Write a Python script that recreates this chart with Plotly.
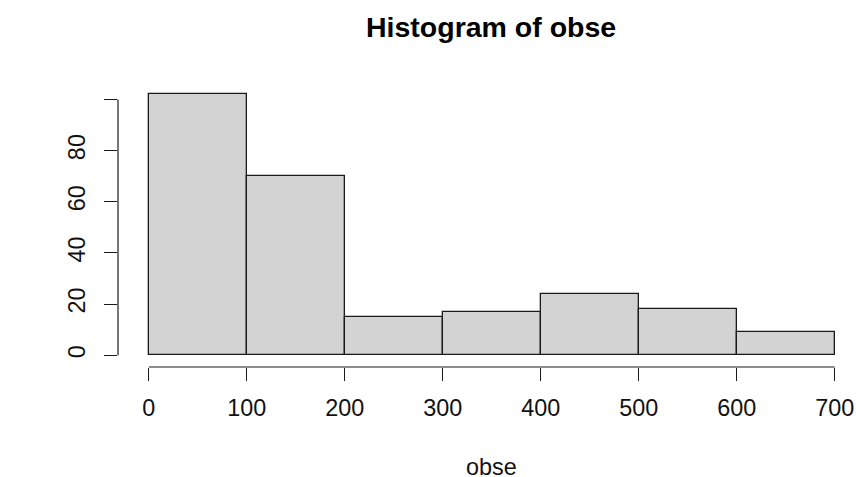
import plotly.graph_objects as go

# Histogram bins of obse (width 100) and their counts
bin_edges = [0, 100, 200, 300, 400, 500, 600, 700]
counts = [102, 70, 15, 17, 24, 18, 9]
x_ticks = [0, 100, 200, 300, 400, 500, 600, 700]
y_ticks = [0, 20, 40, 60, 80, 100]
y_tick_text = ["0", "20", "40", "60", "80", ""]

mids = [(a + b) / 2 for a, b in zip(bin_edges[:-1], bin_edges[1:])]
widths = [b - a for a, b in zip(bin_edges[:-1], bin_edges[1:])]

W, H = 856, 477
L, R, T, B = 118, 10, 90, 110
FONT = "Liberation Sans, Arial, sans-serif"
LABEL_SIZE = 23.4

fig = go.Figure(
    go.Bar(
        x=mids,
        y=counts,
        width=widths,
        marker=dict(color="#d3d3d3", line=dict(color="#1a1a1a", width=1.3)),
        hoverinfo="x+y",
    )
)

fig.update_layout(
    width=W,
    height=H,
    autosize=False,
    margin=dict(l=L, r=R, t=T, b=B, pad=0, autoexpand=False),
    paper_bgcolor="white",
    plot_bgcolor="white",
    showlegend=False,
    font=dict(family=FONT, size=LABEL_SIZE, color="#000000"),
    bargap=0,
)

fig.update_xaxes(
    range=[-31.5, 711.5],
    automargin=False,
    ticklabeloverflow="allow",
    tickvals=x_ticks,
    ticktext=[str(v) for v in x_ticks],
    ticks="outside",
    ticklen=13,
    tickwidth=1.2,
    tickcolor="#1a1a1a",
    showline=False,
    showgrid=False,
    zeroline=False,
    tickfont=dict(family=FONT, size=LABEL_SIZE, color="#111111"),
    ticklabelstandoff=7,
)
fig.update_yaxes(
    range=[-4.6, 103.7],
    automargin=False,
    ticklabeloverflow="allow",
    tickvals=y_ticks,
    ticktext=y_tick_text,
    ticks="outside",
    ticklen=13,
    tickwidth=1.2,
    tickcolor="#1a1a1a",
    tickangle=-90,
    showline=False,
    showgrid=False,
    zeroline=False,
    tickfont=dict(family=FONT, size=LABEL_SIZE, color="#111111"),
    ticklabelstandoff=10,
)

# Axis lines spanning only the first to last tick
fig.add_shape(type="line", xref="x", yref="paper", x0=x_ticks[0], x1=x_ticks[-1],
              y0=0, y1=0, line=dict(color="#1a1a1a", width=1.2))
fig.add_shape(type="line", xref="paper", yref="y", x0=0, x1=0,
              y0=y_ticks[0], y1=y_ticks[-1], line=dict(color="#1a1a1a", width=1.2))

ph = H - T - B

fig.add_annotation(text="<b>Histogram of obse</b>", xref="x", yref="paper",
                   x=349, y=(ph + T - 27) / ph,
                   xanchor="center", yanchor="middle", showarrow=False,
                   font=dict(family=FONT, size=28.5, color="#000000"))
fig.add_annotation(text="obse", xref="x", yref="paper", x=350,
                   y=-(467 - (H - B)) / ph, xanchor="center", yanchor="middle",
                   showarrow=False, font=dict(family=FONT, size=LABEL_SIZE, color="#111111"))
fig.add_annotation(text="Frequency", xref="x", yref="paper",
                   x=-129, y=((H - B) - 224) / ph, textangle=-90,
                   xanchor="center", yanchor="middle", showarrow=False,
                   font=dict(family=FONT, size=LABEL_SIZE, color="#111111"))

fig.write_html("out.html", config={"responsive": False})
